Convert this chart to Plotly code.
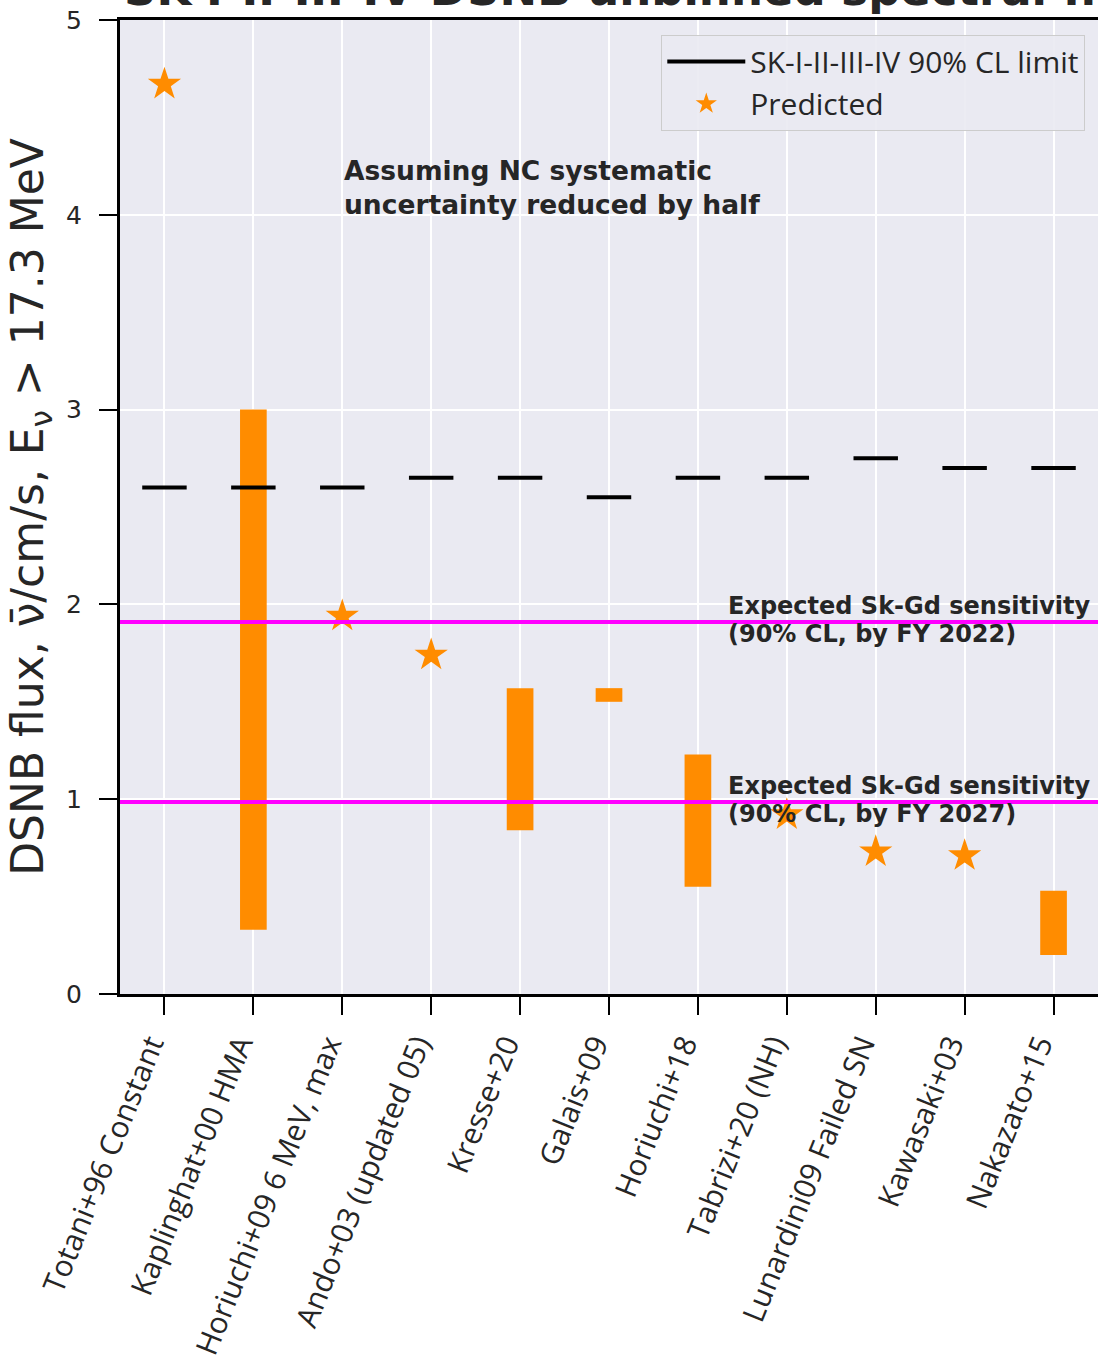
import plotly.graph_objects as go

models = ["Totani+96 Constant", "Kaplinghat+00 HMA", "Horiuchi+09 6 MeV, max",
          "Ando+03 (updated 05)", "Kresse+20", "Galais+09", "Horiuchi+18",
          "Tabrizi+20 (NH)", "Lunardini09 Failed SN", "Kawasaki+03", "Nakazato+15"]
limits = [2.60, 2.60, 2.60, 2.65, 2.65, 2.55, 2.65, 2.65, 2.75, 2.70, 2.70]

range_models = ["Kaplinghat+00 HMA", "Kresse+20", "Galais+09", "Horiuchi+18", "Nakazato+15"]
range_low = [0.33, 0.84, 1.50, 0.55, 0.20]
range_high = [3.00, 1.57, 1.57, 1.23, 0.53]

star_models = ["Totani+96 Constant", "Horiuchi+09 6 MeV, max", "Ando+03 (updated 05)",
               "Tabrizi+20 (NH)", "Lunardini09 Failed SN", "Kawasaki+03"]
star_values = [4.67, 1.94, 1.74, 0.92, 0.73, 0.71]

sens_values = [1.91, 0.985]
sens_line1 = ["Expected Sk-Gd sensitivity", "Expected Sk-Gd sensitivity"]
sens_line2 = ["(90% CL, by FY 2022)", "(90% CL, by FY 2027)"]

FONT = "DejaVu Sans"
FONT2 = "Open Sans"
TXT = "#262626"
ORANGE = "#ff8c00"

idx = {m: i for i, m in enumerate(models)}
half_w = 0.25

fig = go.Figure()

# orange predicted ranges
fig.add_trace(go.Bar(
    x=[idx[m] for m in range_models],
    base=range_low,
    y=[h - l for h, l in zip(range_high, range_low)],
    width=0.3, marker=dict(color=ORANGE, line=dict(width=0)),
    showlegend=False, hoverinfo="skip"))

# limits as short horizontal segments
lx, ly = [], []
for i, v in enumerate(limits):
    lx += [i - half_w, i + half_w, None]
    ly += [v, v, None]
fig.add_trace(go.Scatter(x=lx, y=ly, mode="lines",
                         line=dict(color="black", width=4),
                         name="SK-I-II-III-IV 90% CL limit"))

fig.add_trace(go.Scatter(x=[idx[m] for m in star_models], y=star_values,
                         mode="markers",
                         marker=dict(symbol="star", size=25, color=ORANGE, line=dict(width=0)),
                         name="Predicted"))

for v, t1, t2 in zip(sens_values, sens_line1, sens_line2):
    fig.add_shape(type="line", xref="paper", x0=0, x1=1, yref="y", y0=v, y1=v,
                  line=dict(color="#ff00ff", width=4), layer="above")
    fig.add_annotation(x=6.32, y=v, xref="x", yref="y", text="<b>" + t1 + "</b>",
                       showarrow=False, xanchor="left", yanchor="middle", yshift=16,
                       font=dict(family=FONT, size=24, color=TXT))
    fig.add_annotation(x=6.32, y=v, xref="x", yref="y", text="<b>" + t2 + "</b>",
                       showarrow=False, xanchor="left", yanchor="middle", yshift=-12,
                       font=dict(family=FONT, size=24, color=TXT))

fig.add_annotation(x=2.0, y=4.14, xref="x", yref="y",
                   text="<b>Assuming NC systematic<br>uncertainty reduced by half</b>",
                   showarrow=False, xanchor="left", yanchor="middle", align="left",
                   font=dict(family=FONT, size=26.5, color=TXT))

fig.add_annotation(x=0.002, y=1.002, xref="paper", yref="paper",
                   text="<b>SK-I-II-III-IV DSNB unbinned spectral fit</b>",
                   showarrow=False, xanchor="left", yanchor="bottom",
                   font=dict(family=FONT, size=45, color=TXT))

fig.update_layout(
    width=1098, height=1365,
    margin=dict(l=120, r=0, t=20, b=371),
    paper_bgcolor="white", plot_bgcolor="#eaeaf2",
    font=dict(family=FONT, color=TXT),
    barmode="overlay",
    legend=dict(x=0.987, y=0.985, xanchor="right", yanchor="top",
                bgcolor="rgba(234,234,242,0.9)", bordercolor="#cccccc", borderwidth=1,
                font=dict(family=FONT2, size=30, color=TXT), itemwidth=78),
)
fig.update_xaxes(range=[-0.5, 10.5], tickmode="array",
                 tickvals=list(range(len(models))), ticktext=models,
                 tickangle=-68, tickfont=dict(family=FONT2, size=30, color=TXT),
                 showgrid=True, gridcolor="white", gridwidth=2,
                 showline=True, linecolor="black", linewidth=3, mirror=True,
                 ticks="outside", ticklen=18, tickwidth=2, tickcolor="black",
                 ticklabelstandoff=0, ticklabelshift=-14, zeroline=False, automargin=False)
fig.update_yaxes(range=[0, 5], tickmode="array", tickvals=[0, 1, 2, 3, 4, 5],
                 tickfont=dict(family=FONT, size=25, color=TXT),
                 showgrid=True, gridcolor="white", gridwidth=2,
                 showline=True, linecolor="black", linewidth=3, mirror=False,
                 ticks="outside", ticklen=18, tickwidth=2, tickcolor="black",
                 ticklabelstandoff=12, zeroline=False, automargin=False,
                 title=dict(text="DSNB flux, \u03bd\u0304/cm/s, E<sub>\u03bd</sub> > 17.3 MeV",
                            font=dict(family=FONT, size=44, color=TXT), standoff=9))

fig.write_html("out.html")
